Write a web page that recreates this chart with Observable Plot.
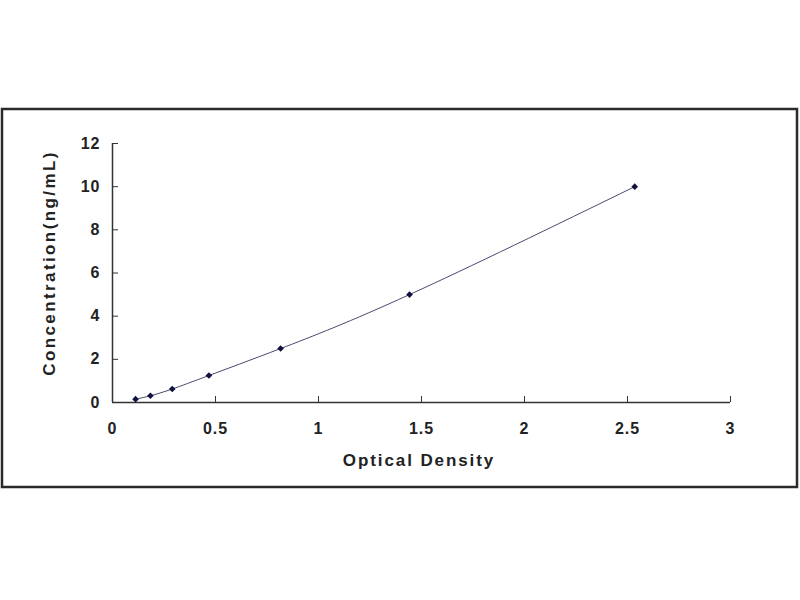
<!DOCTYPE html>
<html>
<head>
<meta charset="utf-8">
<script src="https://cdn.jsdelivr.net/npm/d3@7"></script>
<script src="https://cdn.jsdelivr.net/npm/@observablehq/plot@0.6"></script>
<style>
  html, body { margin: 0; padding: 0; background: #fff; }
  #chart { width: 800px; height: 600px; }
  svg text { font-family: "Liberation Sans", Arial, sans-serif; }
</style>
</head>
<body>
<div id="chart"></div>
<script>
const od = [0.112, 0.184, 0.29, 0.468, 0.816, 1.442, 2.535];
const conc = [0.156, 0.3125, 0.625, 1.25, 2.5, 5, 10];
const xTicks = [0, 0.5, 1, 1.5, 2, 2.5, 3];
const yTicks = [0, 2, 4, 6, 8, 10, 12];
const xTickLabels = ["0", "0.5", "1", "1.5", "2", "2.5", "3"];
const yTickLabels = ["0", "2", "4", "6", "8", "10", "12"];
const xTitle = "Optical Density";
const yTitle = "Concentration(ng/mL)";

const points = od.map((x, i) => ({x, y: conc[i]}));
const textColor = "#222";
const axisColor = "#333";

const chart = Plot.plot({
  width: 800,
  height: 600,
  marginLeft: 112,
  marginRight: 70,
  marginTop: 143,
  marginBottom: 198,
  style: {fontFamily: "Liberation Sans, Arial, sans-serif", background: "#fff"},
  x: {domain: [0, 3]},
  y: {domain: [0, 12]},
  marks: [
    Plot.ruleY([0], {stroke: axisColor, strokeWidth: 1.5}),
    Plot.ruleX([0], {stroke: axisColor, strokeWidth: 1.5}),
    Plot.axisX({ticks: xTicks, tickSize: -6, stroke: axisColor, tickFormat: () => "", label: null}),
    Plot.axisY({ticks: yTicks, tickSize: -6, stroke: axisColor, tickFormat: () => "", label: null}),
    Plot.axisX({ticks: xTicks, tickSize: 0, tickPadding: 20, tickFormat: (d) => xTickLabels[xTicks.indexOf(d)],
      fontSize: 16, fontWeight: "bold", fill: textColor, label: null}),
    Plot.axisY({ticks: yTicks, tickSize: 0, tickPadding: 12, tickFormat: (d) => yTickLabels[yTicks.indexOf(d)],
      fontSize: 16, fontWeight: "bold", fill: textColor, label: null}),
    Plot.line(points, {x: "x", y: "y", curve: "natural", stroke: "#4a4a6e", strokeWidth: 1}),
    Plot.dot(points, {x: "x", y: "y", symbol: "diamond2", r: 3, fill: "#121240", stroke: "none"})
  ]
});

const svg = d3.select(chart);
svg.style("letter-spacing", "1px");
// outer frame border
svg.insert("rect", ":first-child")
  .attr("x", 2).attr("y", 109).attr("width", 795).attr("height", 378)
  .attr("fill", "none").attr("stroke", "#2a2a2a").attr("stroke-width", 2.5);
// axis titles
svg.append("text")
  .attr("x", 419).attr("y", 466)
  .attr("text-anchor", "middle")
  .attr("font-size", 17).attr("font-weight", "bold").attr("fill", textColor)
  .style("letter-spacing", "1.9px")
  .text(xTitle);
svg.append("text")
  .attr("transform", "translate(55,263) rotate(-90)")
  .attr("text-anchor", "middle")
  .attr("font-size", 17).attr("font-weight", "bold").attr("fill", textColor)
  .style("letter-spacing", "2.4px")
  .text(yTitle);

document.getElementById("chart").appendChild(chart);
</script>
</body>
</html>
